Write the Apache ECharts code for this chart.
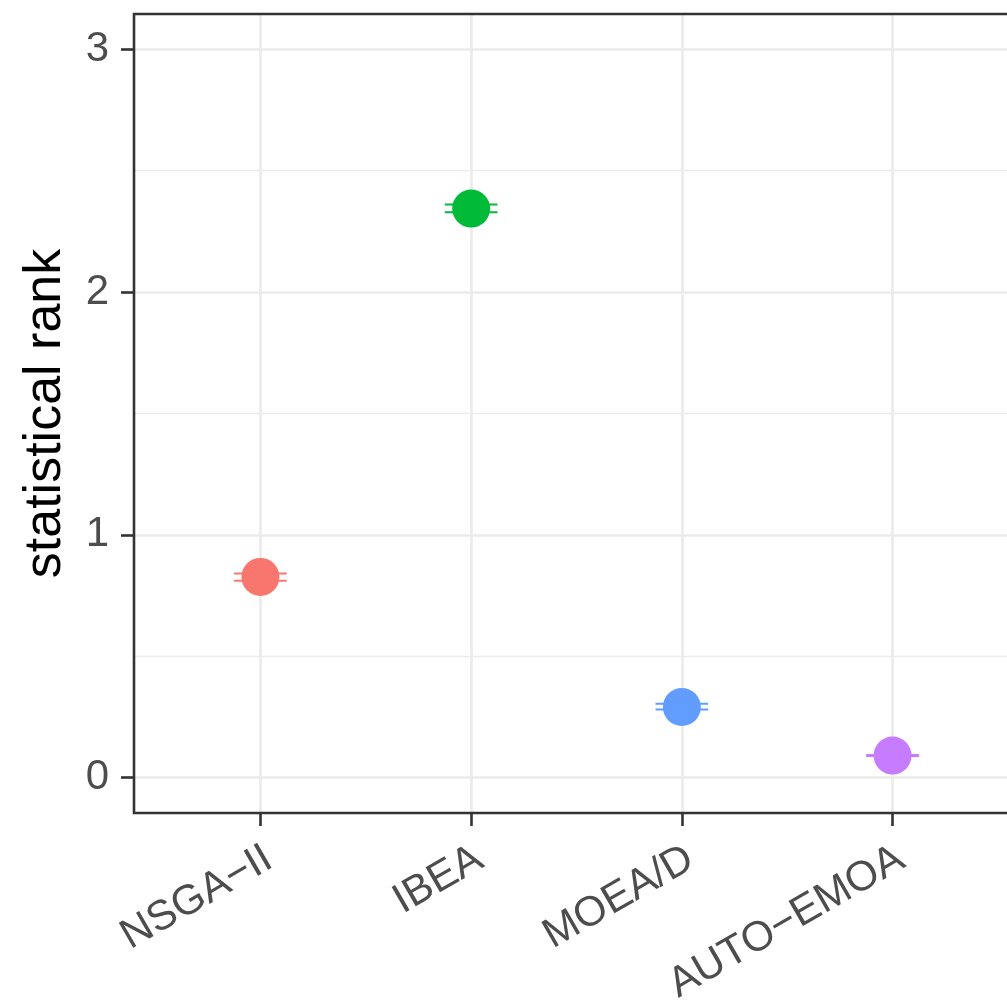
<!DOCTYPE html>
<html>
<head>
<meta charset="utf-8">
<script src="https://cdn.jsdelivr.net/npm/echarts@6/dist/echarts.min.js"></script>
<style>html,body{margin:0;padding:0;background:#fff;}#c{width:1007px;height:1001px;}</style>
</head>
<body>
<div id="c"></div>
<script>
// ---- data ----
const categories = ['NSGA\u2212II', 'IBEA', 'MOEA/D', 'AUTO\u2212EMOA'];
const categoryPos = [1, 2, 3, 4];
const rankMean = [0.827, 2.344, 0.291, 0.091];
const rankLow  = [0.811, 2.329, 0.281, 0.089];
const rankHigh = [0.841, 2.361, 0.305, 0.093];
const colors = ['#F8766D', '#00BA38', '#619CFF', '#C77CFF'];
const yTicks = [0, 1, 2, 3];
const yMinor = [0.5, 1.5, 2.5];

const FONT = "'Liberation Sans', Arial, Helvetica, sans-serif";
const chart = echarts.init(document.getElementById('c'), null, {renderer: 'canvas'});

const gridLines = [];
yTicks.forEach(v => gridLines.push({yAxis: v, lineStyle: {color: '#EBEBEB', width: 2.7, type: 'solid'}}));
yMinor.forEach(v => gridLines.push({yAxis: v, lineStyle: {color: '#EBEBEB', width: 1.35, type: 'solid'}}));
categoryPos.forEach(v => gridLines.push({xAxis: v, lineStyle: {color: '#EBEBEB', width: 2.7, type: 'solid'}}));

const option = {
  animation: false,
  backgroundColor: '#ffffff',
  grid: {left: 134, top: 14, right: -12, bottom: 188, containLabel: false, outerBoundsMode: 'none',
         show: true, borderColor: '#333333', borderWidth: 2.6, backgroundColor: 'transparent', z: 10},
  xAxis: {
    type: 'value', min: 0.4, max: 4.6,
    axisLine: {show: false, onZero: false},
    splitLine: {show: false},
    axisTick: {show: true, customValues: categoryPos, length: 13, lineStyle: {color: '#333333', width: 2.6}},
    axisLabel: {
      customValues: categoryPos,
      formatter: v => categories[categoryPos.indexOf(Math.round(v))] || '',
      rotate: 30, fontSize: 42, color: '#4D4D4D', fontFamily: FONT, margin: 48,
      padding: [0, -10, 0, 0], hideOverlap: false
    }
  },
  yAxis: {
    type: 'value', min: -0.1454, max: 3.1454,
    name: 'statistical rank', nameLocation: 'middle', nameGap: 62,
    nameTextStyle: {fontSize: 52, color: '#000000', fontFamily: FONT},
    axisLine: {show: false, onZero: false},
    splitLine: {show: false},
    axisTick: {show: true, customValues: yTicks, length: 13, lineStyle: {color: '#333333', width: 2.6}},
    axisLabel: {customValues: yTicks, fontSize: 42, color: '#4D4D4D', fontFamily: FONT, margin: 25}
  },
  series: [
    {
      type: 'line', data: [], silent: true, z: 0,
      markLine: {silent: true, z: 0, symbol: 'none', label: {show: false}, animation: false, data: gridLines}
    },
    {
      type: 'custom', z: 2, silent: true,
      data: categoryPos.map((x, i) => [x, rankLow[i], rankHigh[i], i]),
      renderItem: (params, api) => {
        const x = api.value(0), lo = api.value(1), hi = api.value(2), idx = api.value(3);
        const c = colors[idx];
        const a1 = api.coord([x - 0.125, lo]), a2 = api.coord([x + 0.125, lo]);
        const b1 = api.coord([x - 0.125, hi]), b2 = api.coord([x + 0.125, hi]);
        return {type: 'group', children: [
          {type: 'line', shape: {x1: a1[0], y1: a1[1], x2: a2[0], y2: a2[1]}, style: {stroke: c, lineWidth: 2}},
          {type: 'line', shape: {x1: b1[0], y1: b1[1], x2: b2[0], y2: b2[1]}, style: {stroke: c, lineWidth: 2}}
        ]};
      }
    },
    {
      type: 'scatter', z: 3, symbol: 'circle', symbolSize: 38,
      data: categoryPos.map((x, i) => ({value: [x, rankMean[i]], itemStyle: {color: colors[i], opacity: 1}}))
    }
  ]
};
chart.setOption(option);
</script>
</body>
</html>
